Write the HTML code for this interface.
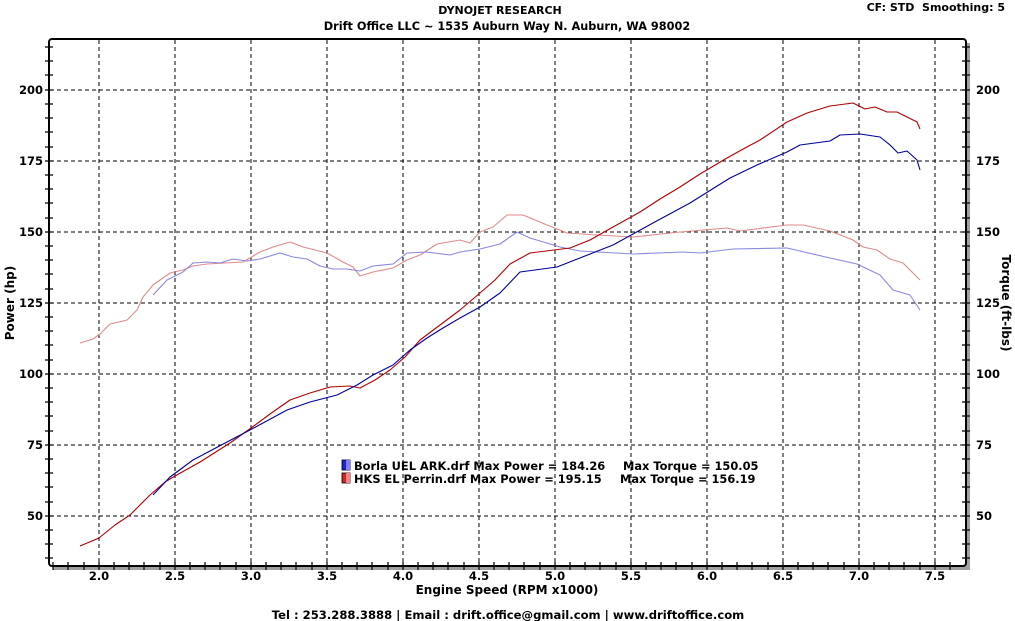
<!DOCTYPE html>
<html><head><meta charset="utf-8"><style>
html,body{margin:0;padding:0;background:#fff;}
svg{display:block;font-family:"DejaVu Sans","Liberation Sans",sans-serif;font-weight:bold;}
</style></head><body>
<svg width="1015" height="621" viewBox="0 0 1015 621" xmlns="http://www.w3.org/2000/svg">
<rect width="1015" height="621" fill="#fff"/>
<text x="500" y="14" font-size="11" text-anchor="middle">DYNOJET RESEARCH</text>
<text x="507" y="30" font-size="11.3" text-anchor="middle">Drift Office LLC ~ 1535 Auburn Way N. Auburn, WA 98002</text>
<text x="1005" y="11" font-size="11" text-anchor="end">CF: STD&#160;&#160;Smoothing: 5</text>
<text x="508" y="619" font-size="11.6" text-anchor="middle">Tel : 253.288.3888 | Email : drift.office@gmail.com | www.driftoffice.com</text>
<text x="507" y="594" font-size="12" text-anchor="middle">Engine Speed (RPM x1000)</text>
<text transform="translate(14,303) rotate(-90)" font-size="12" text-anchor="middle">Power (hp)</text>
<text transform="translate(1002,303) rotate(90)" font-size="12" text-anchor="middle">Torque (ft-lbs)</text>
<path d="M970 43 L970 570 L53 570 L53 566 L966 566 L966 43 Z" fill="#a0a0a0"/>
<rect x="49" y="39" width="917" height="527" rx="3" fill="none" stroke="#000" stroke-width="2"/>
<g stroke="#000" stroke-width="1" stroke-dasharray="4,3" fill="none">
<path d="M99 40V565M175 40V565M251 40V565M327 40V565M403 40V565M479 40V565M555 40V565M631 40V565M707 40V565M783 40V565M859 40V565M935 40V565"/>
<path d="M50 90H965M50 161H965M50 232H965M50 303H965M50 374H965M50 445H965M50 516H965"/>
</g>
<g stroke="#000" stroke-width="1.2">
<path d="M45 47H53M45 61H53M45 75H53M45 90H53M45 104H53M45 118H53M45 132H53M45 147H53M45 161H53M45 175H53M45 189H53M45 203H53M45 218H53M45 232H53M45 246H53M45 260H53M45 274H53M45 289H53M45 303H53M45 317H53M45 331H53M45 345H53M45 360H53M45 374H53M45 388H53M45 402H53M45 416H53M45 431H53M45 445H53M45 459H53M45 473H53M45 487H53M45 502H53M45 516H53M45 530H53M45 544H53M45 558H53"/>
<path d="M962 47H970M962 61H970M962 75H970M962 90H970M962 104H970M962 118H970M962 132H970M962 147H970M962 161H970M962 175H970M962 189H970M962 203H970M962 218H970M962 232H970M962 246H970M962 260H970M962 274H970M962 289H970M962 303H970M962 317H970M962 331H970M962 345H970M962 360H970M962 374H970M962 388H970M962 402H970M962 416H970M962 431H970M962 445H970M962 459H970M962 473H970M962 487H970M962 502H970M962 516H970M962 530H970M962 544H970M962 558H970"/>
<path d="M53 562V570M68 562V570M84 562V570M99 562V570M114 562V570M129 562V570M144 562V570M160 562V570M175 562V570M190 562V570M205 562V570M220 562V570M236 562V570M251 562V570M266 562V570M281 562V570M296 562V570M312 562V570M327 562V570M342 562V570M357 562V570M372 562V570M388 562V570M403 562V570M418 562V570M433 562V570M448 562V570M464 562V570M479 562V570M494 562V570M509 562V570M524 562V570M540 562V570M555 562V570M570 562V570M585 562V570M600 562V570M616 562V570M631 562V570M646 562V570M661 562V570M676 562V570M692 562V570M707 562V570M722 562V570M737 562V570M752 562V570M768 562V570M783 562V570M798 562V570M813 562V570M828 562V570M844 562V570M859 562V570M874 562V570M889 562V570M904 562V570M920 562V570M935 562V570M950 562V570"/>
</g>
<g font-size="11.5" text-anchor="end">
<text x="43" y="94">200</text><text x="43" y="165">175</text><text x="43" y="236">150</text><text x="43" y="307">125</text><text x="43" y="378">100</text><text x="43" y="449">75</text><text x="43" y="520">50</text>
</g>
<g font-size="11.5" text-anchor="start">
<text x="976" y="94">200</text><text x="976" y="165">175</text><text x="976" y="236">150</text><text x="976" y="307">125</text><text x="976" y="378">100</text><text x="976" y="449">75</text><text x="976" y="520">50</text>
</g>
<g font-size="11.5" text-anchor="middle">
<text x="99" y="580">2.0</text><text x="175" y="580">2.5</text><text x="251" y="580">3.0</text><text x="327" y="580">3.5</text><text x="403" y="580">4.0</text><text x="479" y="580">4.5</text><text x="555" y="580">5.0</text><text x="631" y="580">5.5</text><text x="707" y="580">6.0</text><text x="783" y="580">6.5</text><text x="859" y="580">7.0</text><text x="935" y="580">7.5</text>
</g>
<g fill="none" stroke-width="1.1" stroke-linejoin="round">
<polyline stroke="#e08a8a" points="80,343 93,339 100,334 110,324 127,320 137,310 143,297 153,285 170,273 183,270 193,266 207,264 243,262 260,252 273,247 290,242 303,247 327,253 343,262 353,267 360,276 373,272 393,268 407,260 420,255 437,244 460,240 470,243 480,232 493,227 507,215 523,215 547,225 567,233 597,235 633,237 680,232 727,228 740,231 787,225 803,225 830,231 853,240 863,247 877,250 890,259 903,263 920,280"/>
<polyline stroke="#8888e0" points="153,295 167,280 183,272 193,263 207,262 220,263 233,259 247,261 260,259 280,253 293,257 307,259 320,266 333,269 347,269 360,271 373,266 393,264 407,253 427,252 450,255 460,252 480,249 500,244 517,232 530,238 560,247 580,251 633,254 683,252 700,253 733,249 787,248 830,258 857,264 880,275 893,290 910,295 920,310"/>
<polyline stroke="#b00000" points="80,546 99,538 115,525 130,515 137,508 150,495 165,482 175,476 200,462 230,443 251,428 270,414 290,400 310,393 330,387 350,386 360,388 375,380 390,370 405,357 420,340 440,325 460,310 480,293 495,280 510,264 530,253 570,248 590,240 613,227 640,212 660,199 680,187 700,174 727,158 745,148 760,140 787,122 807,113 830,106 853,103 865,109 875,107 887,112 897,112 917,122 920,129"/>
<polyline stroke="#0000a0" points="153,495 170,477 193,460 227,442 250,430 287,410 310,402 337,395 357,385 373,375 393,365 410,350 427,338 443,328 460,318 480,307 500,293 520,272 557,267 613,245 653,223 690,203 730,178 757,165 787,152 800,145 830,141 840,135 860,134 880,137 890,145 898,153 907,151 917,160 920,170"/>
</g>
<rect x="342" y="460" width="8" height="10" fill="#2020e0" stroke="#000" stroke-width="0.8"/>
<rect x="346" y="460" width="4" height="10" fill="#8080ff"/>
<rect x="342" y="473" width="8" height="10" fill="#e02020" stroke="#000" stroke-width="0.8"/>
<rect x="346" y="473" width="4" height="10" fill="#ff8080"/>
<g font-size="11.4">
<text x="354" y="470">Borla UEL ARK.drf Max Power = 184.26</text>
<text x="623" y="470">Max Torque = 150.05</text>
<text x="354" y="483">HKS EL Perrin.drf Max Power = 195.15</text>
<text x="620" y="483">Max Torque = 156.19</text>
</g>
</svg>
</body></html>
